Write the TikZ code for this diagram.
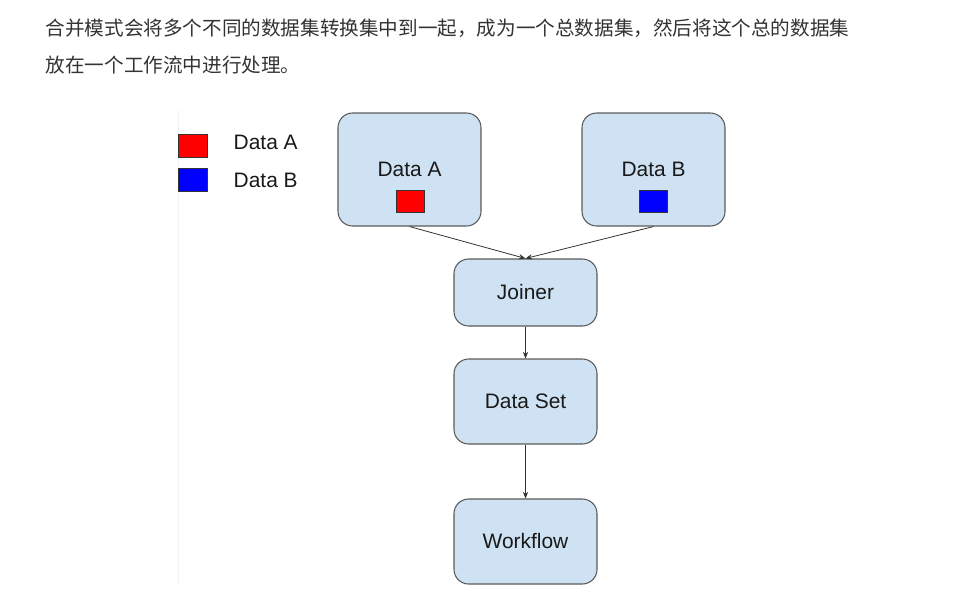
\documentclass[tikz,border=0pt]{standalone}
\usepackage{fontspec}
\setmainfont{Liberation Sans}
\newfontfamily\cjkfont{Noto Sans CJK SC}
\usetikzlibrary{arrows.meta}
\definecolor{boxfill}{HTML}{CFE2F3}
\definecolor{boxline}{HTML}{5A5A5A}
\definecolor{txtgray}{HTML}{333333}
\begin{document}
\begin{tikzpicture}[x=0.75pt,y=-0.75pt,
  every node/.style={font=\fontsize{15.7}{18}\selectfont,text=black!90},
  box/.style={draw=boxline,fill=boxfill,line width=0.8pt,rounded corners=11pt,minimum width=107.25pt},
  swatch/.style={draw=black!80,line width=0.6pt,inner sep=0pt,minimum width=21pt,minimum height=16.5pt},
  link/.style={draw=black!80,line width=0.6pt,-{Stealth[length=5pt,width=4pt]}},
  cjk/.style={anchor=west,font=\cjkfont\fontsize{14.7}{20}\selectfont,text=txtgray}]
\useasboundingbox (0,0) rectangle (967,597);
\node[cjk] (intro1) at (41,28) {合并模式会将多个不同的数据集转换集中到一起，成为一个总数据集，然后将这个总的数据集};
\node[cjk] (intro2) at (41,65) {放在一个工作流中进行处理。};
\draw[black!5] (178,110) -- (178,585);
\foreach \y/\ty/\col/\name in {145.5/142/red/Data A, 180/180/blue/Data B}{
  \node[swatch,fill=\col,minimum width=21.75pt,minimum height=17.25pt] (key\col) at (192.5,\y) {};
  \node[anchor=west] (keytxt\col) at (229,\ty) {\name};
}
\node[box,minimum height=84.75pt] (srcA) at (409.5,169.5) {Data A};
\node[swatch,fill=red] (swA) at (410,201) {};
\node[box,minimum height=84.75pt] (srcB) at (653.5,169.5) {Data B};
\node[swatch,fill=blue] (swB) at (653,201) {};
\node[box,minimum height=50.25pt] (join) at (525.5,292.5) {Joiner};
\node[box,minimum height=63.75pt] (dset) at (525.5,401.5) {Data Set};
\node[box,minimum height=63.75pt] (flow) at (525.5,541.5) {Workflow};
\draw[link] (srcA.south) -- (join.north);
\draw[link] (srcB.south) -- (join.north);
\draw[link] (join) -- (dset);
\draw[link] (dset) -- (flow);
\end{tikzpicture}
\end{document}
